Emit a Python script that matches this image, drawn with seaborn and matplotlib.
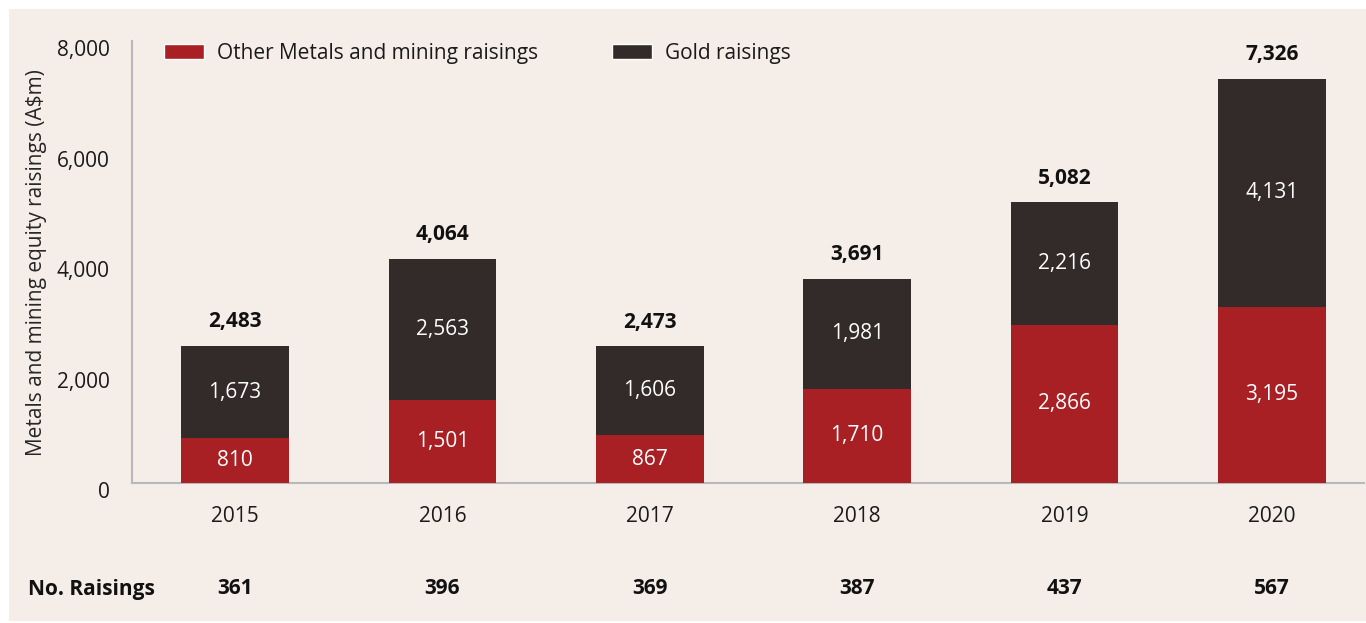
import matplotlib
matplotlib.use("Agg")
import matplotlib.pyplot as plt
import matplotlib.transforms as mtransforms
from matplotlib.patches import Rectangle, Patch
import pandas as pd
import seaborn as sns

# -----------------------------
# Data
# -----------------------------
years = ["2015", "2016", "2017", "2018", "2019", "2020"]
other_metals = [810, 1501, 867, 1710, 2866, 3195]
gold = [1673, 2563, 1606, 1981, 2216, 4131]
no_raisings = [361, 396, 369, 387, 437, 567]

RED = "#a81f24"
DARK = "#332a2a"
BG = "#f5ede8"
FS = 15

df = pd.DataFrame({"Year": years, "Other": other_metals, "Gold": gold})
df["Total"] = df["Other"] + df["Gold"]

# -----------------------------
# Figure
# -----------------------------
sns.set_style("white")
plt.rcParams["font.family"] = ["Open Sans", "DejaVu Sans"]
plt.rcParams["text.color"] = "#1a1a1a"

fig = plt.figure(figsize=(13.66, 6.23), dpi=100, facecolor="white")
fig.patches.append(Rectangle((9 / 1366, 0.003), 1 - 9 / 1366, 1 - 9 / 623 - 0.003,
                             transform=fig.transFigure, facecolor=BG,
                             edgecolor="none", zorder=-10))
ax = fig.add_axes([132 / 1366, 1 - 483 / 623, (1364 - 132) / 1366, (483 - 41.4) / 623])
ax.set_facecolor("none")

# stacked bars: totals (gold on top) then other metals over them
sns.barplot(data=df, x="Year", y="Total", color=DARK, width=0.52,
            saturation=1, linewidth=0, ax=ax, zorder=2)
sns.barplot(data=df, x="Year", y="Other", color=RED, width=0.52,
            saturation=1, linewidth=0, ax=ax, zorder=3)

ax.set_ylim(0, 8000)
ax.set_xlim(-0.497, 5.444)
ax.set_yticks([0, 2000, 4000, 6000, 8000])
ax.set_yticklabels([f"{v:,}" for v in [0, 2000, 4000, 6000, 8000]])
ax.tick_params(axis="both", length=0, labelsize=FS, colors="#1a1a1a")
ax.tick_params(axis="y", pad=16)
ax.tick_params(axis="x", pad=16.5)
offset = mtransforms.ScaledTranslation(0, -7 / 100, fig.dpi_scale_trans)
for lbl in ax.get_yticklabels():
    lbl.set_transform(lbl.get_transform() + offset)

for side in ["top", "right"]:
    ax.spines[side].set_visible(False)
for side in ["left", "bottom"]:
    ax.spines[side].set_color("#b8b8b8")
    ax.spines[side].set_linewidth(1.5)

ax.set_xlabel("")
ax.set_ylabel("Metals and mining equity raisings (A$m)", fontsize=FS, labelpad=7)

# value labels
for i, row in df.iterrows():
    ax.text(i, row["Other"] / 2, f"{row['Other']:,}", ha="center", va="center",
            color="white", fontsize=FS, zorder=4)
    ax.text(i, row["Other"] + row["Gold"] / 2, f"{row['Gold']:,}", ha="center",
            va="center", color="white", fontsize=FS, zorder=4)
    ax.text(i, row["Total"] + 440, f"{row['Total']:,}", ha="center", va="center",
            color="#111111", fontsize=FS, fontweight="bold", zorder=4)

# No. Raisings row
row_trans = mtransforms.blended_transform_factory(ax.transData, fig.transFigure)
y_row = 1 - 589 / 623
fig.text(28 / 1366, y_row, "No. Raisings", ha="left", va="center",
         fontsize=FS, fontweight="bold", color="#111111")
for i, n in enumerate(no_raisings):
    ax.text(i, y_row, str(n), transform=row_trans, ha="center", va="center",
            fontsize=FS, fontweight="bold", color="#111111", clip_on=False)

# legend
handles = [Patch(facecolor=RED, label="Other Metals and mining raisings"),
           Patch(facecolor=DARK, label="Gold raisings")]
ax.legend(handles=handles, loc="center left", bbox_to_anchor=(24 / 1232, 1 - 12 / 441.6),
          ncol=2, frameon=False, fontsize=FS, handlelength=1.92, handleheight=0.77,
          handletextpad=0.62, columnspacing=3.53, borderaxespad=0)

fig.savefig("out.png", dpi=100, facecolor="white")
